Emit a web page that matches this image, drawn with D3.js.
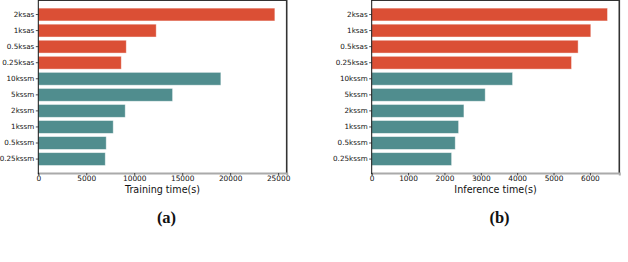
<!DOCTYPE html>
<html>
<head>
<meta charset="utf-8">
<script src="https://cdn.jsdelivr.net/npm/d3@7"></script>
<style>
  body { margin: 0; background: #fff; }
  svg { display: block; }
</style>
</head>
<body>
<script>
'use strict';
const categories = ["2ksas", "1ksas", "0.5ksas", "0.25ksas", "10kssm", "5kssm", "2kssm", "1kssm", "0.5kssm", "0.25kssm"];
const groups = ["sas", "sas", "sas", "sas", "ssm", "ssm", "ssm", "ssm", "ssm", "ssm"];
const trainingTime = [24660, 12290, 9170, 8650, 19030, 14000, 9060, 7810, 7080, 6980];
const inferenceTime = [6484, 6025, 5676, 5495, 3874, 3121, 2536, 2390, 2297, 2198];
const trainTicks = [0, 5000, 10000, 15000, 20000, 25000];
const inferTicks = [0, 1000, 2000, 3000, 4000, 5000, 6000];

const W = 628, H = 262;
const svg = d3.select("body").append("svg").attr("width", W).attr("height", H);

const color = d3.scaleOrdinal().domain(["sas", "ssm"]).range(["#db4f35", "#508d8e"]);

function panel(values, ticks, left, right, xlabel, tag)
{
    const top = 0.5, bottom = 173;
    const x = d3.scaleLinear()
        .domain([0, d3.max(values) * 1.05])
        .range([left, right]);
    const y = d3.scaleBand()
        .domain(categories)
        .range([6.5, 167.1])
        .paddingInner(0.2)
        .paddingOuter(0.1);

    const g = svg.append("g");

    g.selectAll(".bar")
        .data(values)
        .enter()
        .append("rect")
        .attr("x", x(0))
        .attr("y", (d, i) => y(categories[i]))
        .attr("width", d => x(d) - x(0))
        .attr("height", y.bandwidth())
        .attr("fill", (d, i) => color(groups[i]))
        .attr("stroke", "#fff")
        .attr("stroke-opacity", 0.55)
        .attr("stroke-width", 0.8);

    // frame
    g.append("line").attr("x1", left).attr("x2", right).attr("y1", top).attr("y2", top)
        .attr("stroke", "#333").attr("stroke-width", 1);
    g.append("line").attr("x1", right).attr("x2", right).attr("y1", 0).attr("y2", bottom)
        .attr("stroke", "#333").attr("stroke-width", 1.6);

    const xAxis = g.append("g")
        .attr("transform", `translate(0,${bottom})`)
        .call(d3.axisBottom(x).tickValues(ticks).tickSize(2.5).tickPadding(0.5).tickFormat(d3.format("d")));
    xAxis.select(".domain").attr("stroke", "#aaa").attr("stroke-width", 2);
    xAxis.selectAll(".tick line").attr("stroke", "#222").attr("stroke-width", 0.8);
    xAxis.selectAll("text").attr("font-family", "DejaVu Sans").attr("font-size", 7.4).attr("fill", "#111");

    const yAxis = g.append("g")
        .attr("transform", `translate(${left},0)`)
        .call(d3.axisLeft(y).tickSize(2.5).tickPadding(1.5));
    yAxis.select(".domain").attr("d", `M0,0V${bottom + 1}`).attr("stroke", "#111").attr("stroke-width", 1);
    yAxis.selectAll(".tick line").attr("stroke", "#222").attr("stroke-width", 0.8);
    yAxis.selectAll("text").attr("font-family", "DejaVu Sans").attr("font-size", 7.2).attr("fill", "#111");

    g.append("text")
        .attr("x", (left + right) / 2)
        .attr("y", 192.5)
        .attr("text-anchor", "middle")
        .attr("font-family", "DejaVu Sans")
        .attr("font-size", 9.6)
        .attr("fill", "#111")
        .text(xlabel);

    g.append("text")
        .attr("x", (left + right) / 2 + 4)
        .attr("y", 223)
        .attr("text-anchor", "middle")
        .attr("font-family", "Liberation Serif")
        .attr("font-weight", "bold")
        .attr("font-size", 16.5)
        .attr("fill", "#111")
        .text(tag);
}

panel(trainingTime, trainTicks, 38.3, 286.7, "Training time(s)", "(a)");
panel(inferenceTime, inferTicks, 371.7, 619.3, "Inference time(s)", "(b)");

// caption, cut off by the bottom edge
const caption = [
    {t: "Figure 4:", x: -70},
    {t: "Training time", x: 88},
    {t: "(a)", x: 247},
    {t: "and", x: 286},
    {t: "Inference time", x: 321},
    {t: "(b)", x: 491},
    {t: "on the test", x: 530}
];
svg.selectAll(".cap")
    .data(caption)
    .enter()
    .append("text")
    .attr("x", d => d.x)
    .attr("y", 274)
    .attr("font-family", "Liberation Serif")
    .attr("font-size", 17)
    .attr("fill", "#444")
    .text(d => d.t);
</script>
</body>
</html>
